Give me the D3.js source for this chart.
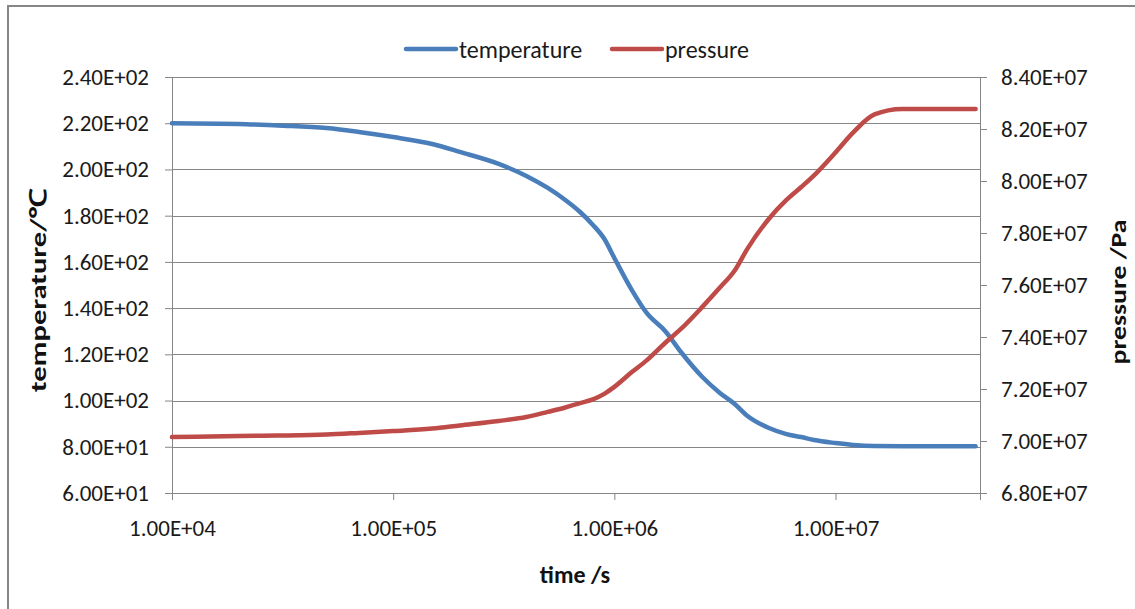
<!DOCTYPE html>
<html>
<head>
<meta charset="utf-8">
<script src="https://cdn.jsdelivr.net/npm/d3@7"></script>
<style>
  body { margin: 0; background: #fff; }
  svg { display: block; font-family: Carlito, Lato, "Open Sans", sans-serif; }
</style>
</head>
<body>
<svg id="chart"></svg>
<script>
// time in seconds (log axis)
const times = [1e4, 2e4, 3e4, 5e4, 7e4, 1e5, 1.5e5, 2e5, 3e5, 4e5, 5e5, 6e5, 7e5, 8e5, 9e5,
  1e6, 1.2e6, 1.4e6, 1.7e6, 2e6, 2.5e6, 3e6, 3.5e6, 4e6, 5e6, 6e6, 7e6, 8e6,
  1e7, 1.2e7, 1.5e7, 2e7, 3e7, 4.3e7]
// temperature in degC
const temperature = [220, 219.7, 219, 217.9, 216.2, 214, 211, 207.6, 202.4, 197.2, 192, 186.8, 181.6, 176, 170,
  161.7, 147.8, 137.9, 130, 121, 110.2, 103.3, 98.5, 93.3, 88.1, 85.5, 84.2, 82.9,
  81.6, 80.8, 80.3, 80.2, 80.2, 80.2]
// pressure in Pa
const pressure = [70.15e6, 70.19e6, 70.21e6, 70.25e6, 70.31e6, 70.38e6, 70.48e6, 70.60e6, 70.77e6, 70.92e6, 71.12e6, 71.29e6, 71.46e6, 71.60e6, 71.81e6,
  72.08e6, 72.65e6, 73.10e6, 73.78e6, 74.31e6, 75.16e6, 75.90e6, 76.56e6, 77.40e6, 78.55e6, 79.27e6, 79.77e6, 80.22e6,
  81.10e6, 81.86e6, 82.56e6, 82.77e6, 82.77e6, 82.77e6]

const xTicks = [1e4, 1e5, 1e6, 1e7]
const leftTicks = [60, 80, 100, 120, 140, 160, 180, 200, 220, 240]
const rightTicks = [6.8e7, 7.0e7, 7.2e7, 7.4e7, 7.6e7, 7.8e7, 8.0e7, 8.2e7, 8.4e7]

const seriesNames = ['temperature', 'pressure']
const colors = ['#4a7ebb', '#be4b48']

const width = 1135
const height = 609
const margin = { top: 77, right: 155, bottom: 116, left: 172 }
const boundWidth = width - margin.left - margin.right
const boundHeight = height - margin.top - margin.bottom
const fontFamily = 'Carlito, Lato, "Open Sans", sans-serif'

const svg = d3.select('#chart')
    .attr('width', width)
    .attr('height', height)

svg.append('rect')
    .attr('width', width)
    .attr('height', height)
    .attr('fill', '#fff')

// outer chart border (right/bottom edges fall off the picture)
svg.append('rect')
    .attr('x', 8)
    .attr('y', 6)
    .attr('width', 1140)
    .attr('height', 610)
    .attr('fill', 'none')
    .attr('stroke', '#868686')
    .attr('stroke-width', 2)

const bounds = svg.append('g')
    .attr('transform', `translate(${margin.left},${margin.top})`)

const xScale = d3.scaleLog()
    .domain([1e4, 4.5e7])
    .range([0, boundWidth])

const yLeft = d3.scaleLinear()
    .domain([60, 240])
    .range([boundHeight, 0])

const yRight = d3.scaleLinear()
    .domain([6.8e7, 8.4e7])
    .range([boundHeight, 0])

const expFmt = v => {
  const [m, e] = v.toExponential(2).split('e')
  const sign = e[0] === '-' ? '-' : '+'
  const digits = e.replace(/[+-]/, '').padStart(2, '0')
  return `${m}E${sign}${digits}`
}

// gridlines
bounds.append('g')
  .selectAll('line')
  .data(leftTicks.slice(1))
  .join('line')
    .attr('x1', 0)
    .attr('x2', boundWidth)
    .attr('y1', d => Math.round(yLeft(d)) + 0.5)
    .attr('y2', d => Math.round(yLeft(d)) + 0.5)
    .attr('stroke', '#868686')
    .attr('stroke-width', 1)

const axisColor = '#868686'
const styleAxis = (g, size) => {
  g.select('.domain').attr('stroke', axisColor)
  g.selectAll('.tick line').attr('stroke', axisColor)
  g.selectAll('.tick text')
      .attr('fill', '#1a1a1a')
      .attr('font-size', size)
      .attr('font-family', fontFamily)
}

bounds.append('g')
    .call(d3.axisLeft(yLeft).tickValues(leftTicks).tickFormat(expFmt).tickSizeOuter(0).tickSize(7).tickPadding(16))
    .call(g => styleAxis(g, 23))

bounds.append('g')
    .attr('transform', `translate(${boundWidth},0)`)
    .call(d3.axisRight(yRight).tickValues(rightTicks).tickFormat(expFmt).tickSizeOuter(0).tickSize(7).tickPadding(14))
    .call(g => styleAxis(g, 23))

bounds.append('g')
    .attr('transform', `translate(0,${boundHeight})`)
    .call(d3.axisBottom(xScale).tickValues(xTicks).tickFormat(expFmt).tickSizeOuter(0).tickSize(7).tickPadding(20))
    .call(g => styleAxis(g, 23))

// lines
const tempData = times.map((t, i) => ({ t, v: temperature[i] }))
const presData = times.map((t, i) => ({ t, v: pressure[i] }))

const tempLine = d3.line()
    .x(d => xScale(d.t))
    .y(d => yLeft(d.v))
    .curve(d3.curveMonotoneX)

const presLine = d3.line()
    .x(d => xScale(d.t))
    .y(d => yRight(d.v))
    .curve(d3.curveMonotoneX)

bounds.append('path')
    .datum(tempData)
    .attr('d', tempLine)
    .attr('fill', 'none')
    .attr('stroke', colors[0])
    .attr('stroke-width', 4.5)
    .attr('stroke-linecap', 'round')

bounds.append('path')
    .datum(presData)
    .attr('d', presLine)
    .attr('fill', 'none')
    .attr('stroke', colors[1])
    .attr('stroke-width', 4.5)
    .attr('stroke-linecap', 'round')

// legend
const legendX = [406, 612]
const legend = svg.append('g')
seriesNames.forEach((name, i) => {
  legend.append('line')
      .attr('x1', legendX[i])
      .attr('x2', legendX[i] + 50)
      .attr('y1', 49)
      .attr('y2', 49)
      .attr('stroke', colors[i])
      .attr('stroke-width', 4.5)
      .attr('stroke-linecap', 'round')
  legend.append('text')
      .text(name)
      .attr('x', legendX[i] + 53)
      .attr('y', 58)
      .attr('font-size', 24)
      .attr('fill', '#1a1a1a')
})

// axis titles
svg.append('text')
    .text('temperature/℃')
    .attr('transform', 'translate(46,290) rotate(-90)')
    .attr('text-anchor', 'middle')
    .attr('font-weight', 'bold')
    .attr('font-size', 23)
    .attr('textLength', 204)
    .attr('lengthAdjust', 'spacingAndGlyphs')
    .attr('fill', '#111')

svg.append('text')
    .text('pressure /Pa')
    .attr('transform', 'translate(1126,292) rotate(-90)')
    .attr('text-anchor', 'middle')
    .attr('font-weight', 'bold')
    .attr('font-size', 23)
    .attr('textLength', 145)
    .attr('lengthAdjust', 'spacingAndGlyphs')
    .attr('fill', '#111')

svg.append('text')
    .text('time /s')
    .attr('x', 575)
    .attr('y', 583)
    .attr('text-anchor', 'middle')
    .attr('font-weight', 'bold')
    .attr('font-size', 24)
    .attr('fill', '#111')
</script>
</body>
</html>
